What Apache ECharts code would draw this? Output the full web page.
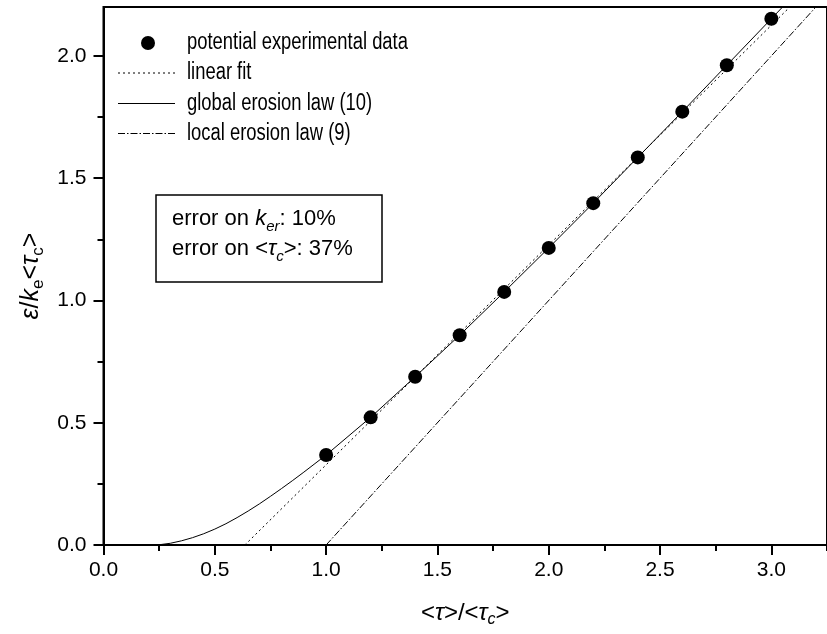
<!DOCTYPE html>
<html>
<head>
<meta charset="utf-8">
<script src="https://cdn.jsdelivr.net/npm/echarts@6/dist/echarts.min.js"></script>
<style>
    html, body {margin: 0; padding: 0; background: #fff;}
    #chart {width: 827px; height: 634px;}
</style>
</head>
<body>
<div id="chart"></div>
<script>
// measured points
const dataX = [1.0, 1.2, 1.4, 1.6, 1.8, 2.0, 2.2, 2.4, 2.6, 2.8, 3.0];
const dataY = [0.368, 0.522, 0.688, 0.858, 1.035, 1.215, 1.398, 1.585, 1.772, 1.962, 2.152];

// linear fit
const fitX = [0.635, 3.25];
const fitY = [0, 2.35];

// global erosion law (10)
const globalX = [0.23, 0.25, 0.3, 0.35, 0.4, 0.45, 0.5, 0.55, 0.6, 0.65, 0.7, 0.75, 0.8, 0.85, 0.9, 0.95, 1.0,
    1.2, 1.4, 1.6, 1.8, 2.0, 2.2, 2.4, 2.6, 2.8, 3.0, 3.2, 3.25];
const globalY = [0, 0.001, 0.007, 0.017, 0.030, 0.046, 0.065, 0.087, 0.112, 0.139, 0.168, 0.199, 0.231, 0.264, 0.298, 0.333, 0.368,
    0.522, 0.688, 0.858, 1.035, 1.215, 1.398, 1.585, 1.772, 1.962, 2.152, 2.342, 2.39];

// local erosion law (9)
const localX = [1.0, 3.25];
const localY = [0, 2.25];

// ticks
const xMajorTicks = [0, 0.5, 1.0, 1.5, 2.0, 2.5, 3.0];
const xMinorTicks = [0.25, 0.75, 1.25, 1.75, 2.25, 2.75, 3.25];
const yMajorTicks = [0, 0.5, 1.0, 1.5, 2.0];
const yMinorTicks = [0.25, 0.75, 1.25, 1.75];

const legendNames = ['potential experimental data', 'linear fit', 'global erosion law (10)', 'local erosion law (9)'];

const FONT = '"Liberation Sans", Arial, sans-serif';
const zip = (xs, ys) => xs.map((x, i) => [x, ys[i]]);

const chart = echarts.init(document.getElementById('chart'));

const xBase = {
    type: 'value', min: 0, max: 3.25, position: 'bottom',
    splitLine: {show: false}
};
const yBase = {
    type: 'value', min: 0, max: 2.2, position: 'left',
    splitLine: {show: false}
};

// legend rows (drawn by hand so the line styles match)
const legendRowY = [43, 73, 103.5, 133.5];
const legendDash = [null, [2, 3], null, [7, 2, 1.5, 2]];
const legendGraphics = [];
legendNames.forEach((name, i) => {
    if (i === 0) {
        legendGraphics.push({type: 'circle', shape: {cx: 148, cy: legendRowY[i], r: 7}, style: {fill: '#000'}});
    } else {
        legendGraphics.push({
            type: 'line', shape: {x1: 118, y1: legendRowY[i], x2: 175, y2: legendRowY[i]},
            style: {stroke: '#000', lineWidth: 1, lineDash: legendDash[i]}
        });
    }
    legendGraphics.push({
        type: 'text', x: 187, y: legendRowY[i], scaleX: 0.8,
        style: {text: name, font: '23px ' + FONT, fill: '#000', verticalAlign: 'middle'}
    });
});

const option = {
    animation: false,
    backgroundColor: '#fff',
    grid: {
        left: 103.5, top: 7, right: -9.7, bottom: 89,
        show: true, borderColor: '#000', borderWidth: 2
    },
    xAxis: [
        Object.assign({}, xBase, {
            name: '{a|<}{i|τ}{a|>/<}{i|τ}{s|c}{a|>}',
            nameLocation: 'middle', nameGap: 53,
            nameTextStyle: {
                rich: {
                    a: {fontSize: 24, fontFamily: FONT, lineHeight: 30},
                    i: {fontSize: 24, fontFamily: FONT, fontStyle: 'italic', lineHeight: 30},
                    s: {fontSize: 16, fontFamily: FONT, fontStyle: 'italic', lineHeight: 14, verticalAlign: 'bottom'}
                }
            },
            axisLine: {onZero: false, lineStyle: {color: '#000', width: 2}},
            axisTick: {length: 10, customValues: xMajorTicks, lineStyle: {color: '#000', width: 2}},
            axisLabel: {
                customValues: xMajorTicks, margin: 15,
                color: '#000', fontSize: 21, fontFamily: FONT,
                formatter: v => v.toFixed(1)
            }
        }),
        Object.assign({}, xBase, {
            axisLine: {show: false},
            axisTick: {length: 6, customValues: xMinorTicks, lineStyle: {color: '#000', width: 2}},
            axisLabel: {show: false}
        })
    ],
    yAxis: [
        Object.assign({}, yBase, {
            name: '{i|ε}{a|/}{i|k}{s|e}{a|<}{i|τ}{s|c}{a|>}',
            nameLocation: 'middle', nameGap: 52, nameRotate: 90,
            nameTextStyle: {
                rich: {
                    a: {fontSize: 25, fontFamily: FONT, lineHeight: 30},
                    i: {fontSize: 25, fontFamily: FONT, fontStyle: 'italic', lineHeight: 30},
                    s: {fontSize: 17, fontFamily: FONT, lineHeight: 14, verticalAlign: 'bottom'}
                }
            },
            axisLine: {onZero: false, lineStyle: {color: '#000', width: 2}},
            axisTick: {length: 10, customValues: yMajorTicks, lineStyle: {color: '#000', width: 2}},
            axisLabel: {
                customValues: yMajorTicks, margin: 17,
                color: '#000', fontSize: 21, fontFamily: FONT,
                formatter: v => v.toFixed(1)
            }
        }),
        Object.assign({}, yBase, {
            axisLine: {show: false},
            axisTick: {length: 6, customValues: yMinorTicks, lineStyle: {color: '#000', width: 2}},
            axisLabel: {show: false}
        })
    ],
    series: [
        {
            name: legendNames[1], type: 'line', data: zip(fitX, fitY),
            symbol: 'none', clip: true,
            lineStyle: {color: '#000', width: 1, type: [2, 3]}
        },
        {
            name: legendNames[2], type: 'line', data: zip(globalX, globalY),
            symbol: 'none', clip: true,
            lineStyle: {color: '#000', width: 1}
        },
        {
            name: legendNames[3], type: 'line', data: zip(localX, localY),
            symbol: 'none', clip: true,
            lineStyle: {color: '#000', width: 1, type: [7, 2, 1.5, 2]}
        },
        {
            name: legendNames[0], type: 'scatter', data: zip(dataX, dataY),
            symbol: 'circle', symbolSize: 14, z: 5,
            itemStyle: {color: '#000', opacity: 1}
        }
    ],
    graphic: legendGraphics.concat([
        {
            type: 'rect', shape: {x: 156, y: 195, width: 226, height: 87},
            style: {fill: '#fff', stroke: '#000', lineWidth: 1.5}
        },
        {
            type: 'text', x: 172, y: 204,
            style: {
                text: '{a|error on }{i|k}{s|er}{a|: 10%}\n{a|error on <}{i|τ}{s|c}{a|>: 37%}',
                rich: {
                    a: {font: '22px ' + FONT, fill: '#000', lineHeight: 30},
                    i: {font: 'italic 22px ' + FONT, fill: '#000', lineHeight: 30},
                    s: {font: 'italic 15px ' + FONT, fill: '#000', lineHeight: 12, verticalAlign: 'bottom'}
                }
            }
        }
    ])
};

chart.setOption(option);
</script>
</body>
</html>
